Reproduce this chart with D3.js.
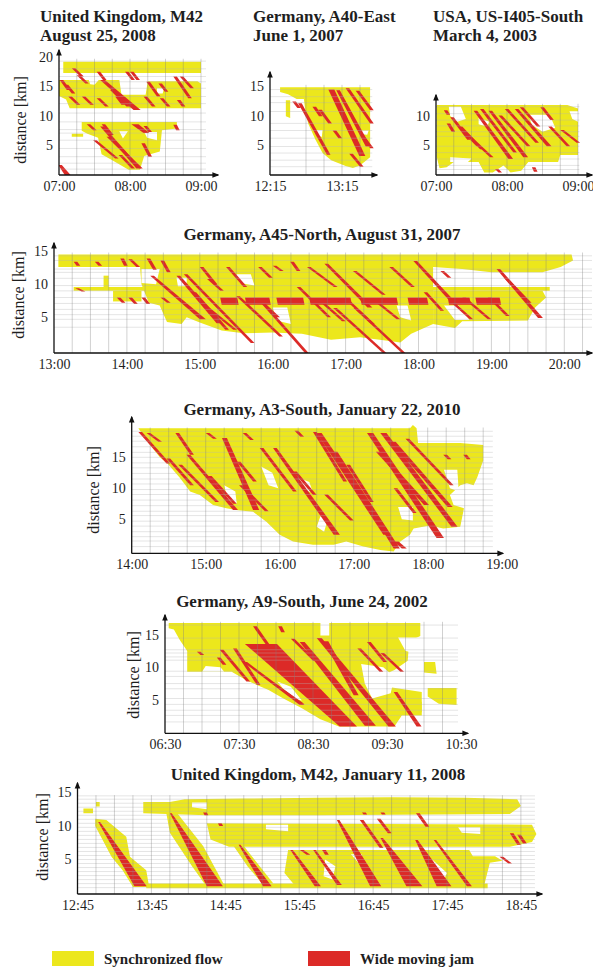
<!DOCTYPE html>
<html lang="en">
<head>
<meta charset="utf-8">
<script src="https://cdn.jsdelivr.net/npm/d3@7"></script>
<style>
body{margin:0;background:#fff;}
svg{display:block;font-family:"Liberation Serif","Times New Roman",serif;}
.ttl{font-weight:bold;font-size:17px;fill:#1e1e1e;}
.tick text{font-size:14px;fill:#1e1e1e;font-family:"Liberation Serif","Times New Roman",serif;}
.ylab{font-size:16px;fill:#1e1e1e;}
.leg{font-weight:bold;font-size:15px;fill:#1e1e1e;}
</style>
</head>
<body>
<svg id="fig" width="593" height="969"></svg>
<script>
// time in decimal hours, distance in km
// jams: [tStart, kmStart, tEnd, kmEnd, durStart(min), durEnd(min)]

// ---------- UK M42, Aug 25 2008
const p1Yellow=[
 [[7.06,19.2],[9.0,19.2],[9.0,17.3],[7.06,17.3]],
 [[7.0,16.1],[7.85,16.1],[7.88,13.6],[8.22,13.6],[8.25,15.9],[8.95,15.9],[9.0,15.5],[9.0,11.3],[7.15,11.3],[7.1,12.8],[7.0,13.4]],
 [[7.32,9.0],[8.66,9.0],[8.66,7.9],[8.45,7.6],[8.42,4.0],[8.2,3.2],[8.14,0.9],[7.98,0.9],[7.75,2.5],[7.6,3.5],[7.55,6.3],[7.4,7.0],[7.32,7.5]],
 [[7.18,7.0],[7.34,7.0],[7.34,6.5],[7.18,6.5]]
]
const p1Gaps=[
 [[7.42,16.1],[7.56,16.1],[7.5,15.3],[7.44,15.4]],
 [[8.38,14.7],[8.48,14.7],[8.46,13.8],[8.38,13.8]],
 [[8.2,7.3],[8.38,7.3],[8.38,5.9],[8.24,6.3]],
 [[7.85,7.4],[7.97,7.4],[7.9,6.2]]
]
const p1Jams=[
 [7.01,16.1,7.11,14.4],[7.08,15.3,7.18,13.8],[7.18,18.1,7.30,16.7],[7.25,16.9,7.37,15.5],
 [7.53,17.5,7.62,16.1],[7.58,16.1,8.05,11.0,4,6],[7.72,14.4,7.95,11.6],[7.13,13.3,7.25,11.9],
 [7.32,13.3,7.44,11.9],[7.53,13.0,7.65,11.6],[7.79,13.3,7.88,11.9],[7.93,17.5,8.02,16.1],
 [8.0,17.5,8.09,16.1],[8.23,15.8,8.38,13.3],[8.40,15.5,8.49,14.1],[8.61,16.7,8.82,13.0],
 [8.70,16.7,8.85,14.7],[8.19,13.3,8.31,11.6],[8.42,13.0,8.52,11.6],[8.66,12.7,8.73,11.6],
 [7.39,8.6,7.48,7.6],[7.60,8.6,7.72,6.8],[8.02,8.6,8.19,7.1,6,5],[8.19,8.3,8.26,7.3],
 [8.61,8.5,8.65,7.6],[7.58,8.2,8.09,1.1,3,4],[7.67,6.5,8.13,1.1],[7.48,5.9,7.79,2.8],
 [7.84,3.4,8.02,1.1],[8.16,5.4,8.26,3.1],[6.99,1.7,7.08,0,3,5]
]
const p1Det=[1.0,2.0,3.1,4.5,5.9,7.1,7.7,9.0,10.5,12.1,13.3,14.7,15.8,16.7,18.0,19.3]

// ---------- Germany A40-East, Jun 1 2007
const p2Yellow=[
 [[12.39,14.8],[13.64,14.8],[13.64,12.8],[12.62,12.8],[12.5,13.6],[12.39,14.0]],
 [[12.72,12.8],[13.64,12.8],[13.64,3.0],[13.5,1.6],[13.4,1.2],[13.3,1.5],[13.1,2.5],[12.98,3.7],[12.88,6.0],[12.78,8.7],[12.74,11.0]],
 [[12.47,12.6],[12.53,12.6],[12.53,9.6],[12.47,9.9]]
]
const p2Gaps=[
 [[12.9,7.6],[12.98,7.6],[12.97,6.4],[12.9,6.8]],
 [[13.5,7.5],[13.62,7.5],[13.6,6.8],[13.5,6.9]]
]
const p2Jams=[
 [12.64,12.1,13.04,3.4],[12.56,12.4,12.63,11.3],[12.84,11.5,12.93,9.9],[12.92,11.0,13.06,8.7],
 [13.06,14.4,13.49,3.2,5,5],[13.17,14.3,13.58,4.8,3,4],[13.3,14.6,13.64,8.7],[13.44,14.2,13.64,10.9],
 [13.12,7.5,13.2,6.2],[13.35,3.6,13.5,1.4],[13.5,6.8,13.64,4.5]
]
const p2Det=[1.4,2.5,3.7,4.8,6.2,7.5,8.7,10.7,12.2,13.2,14.4]

// ---------- USA US-I405-South, Mar 4 2003
const p3Yellow=[
 [[7.01,11.9],[8.85,11.9],[9.0,11.3],[9.0,3.3],[8.75,3.3],[8.72,2.1],[8.3,2.1],[8.2,0.6],[8.05,0.3],[7.95,1.5],[7.8,0.3],[7.68,0.3],[7.6,2.1],[7.25,2.1],[7.15,1.2],[7.05,1.0],[7.01,3.0]]
]
const p3Gaps=[
 [[7.18,11.6],[7.35,11.6],[7.42,9.5],[7.3,9.0],[7.2,10.0]],
 [[8.3,10.2],[8.6,10.2],[8.68,8.0],[8.5,7.3],[8.35,8.5]],
 [[7.6,9.7],[7.75,9.0],[7.72,8.2],[7.6,8.6]],
 [[8.88,10.8],[9.0,10.8],[9.0,9.0],[8.92,9.5]],
 [[7.2,2.9],[7.5,2.7],[7.45,2.1],[7.2,2.1]]
]
const p3Jams=[
 [7.15,8.7,7.22,7.3],[7.2,9.8,7.44,5.9],[7.32,8.2,7.62,4.3],[7.39,7.1,7.76,2.9],
 [7.53,10.9,8.02,2.6,3,4],[7.62,11.2,8.09,3.7],[7.74,10.9,8.23,2.9,3,4],[7.88,10.1,8.28,4.8],
 [7.97,11.2,8.4,5.4],[8.11,11.2,8.56,4.8,3,4],[8.18,11.5,8.42,8.2],[8.47,11.5,8.61,9.3],
 [8.58,8.2,8.84,4.8],[8.75,7.6,8.98,5.4],[7.83,0.9,7.88,0.3],[8.35,1.2,8.38,0.4],
 [7.11,11.0,7.15,10.2],[7.48,5.9,7.57,4.8]
]
const p3Det=[0.8,1.5,2.6,3.7,4.8,6.5,7.3,8.3,9.3,10.4,11.6]

// ---------- Germany A45-North, Aug 31 2007
const p4Yellow=[
 [[13.06,14.5],[20.1,14.5],[20.12,13.6],[19.95,12.6],[19.7,11.8],[19.0,11.8],[18.6,12.3],[18.2,12.6],[13.06,12.6]],
 [[13.27,9.6],[19.8,9.6],[19.8,9.0],[13.27,9.0]],
 [[13.68,11.3],[13.75,11.3],[13.75,9.5],[13.68,9.5]],
 [[14.18,12.6],[18.2,12.6],[18.2,4.0],[17.9,2.5],[17.75,1.2],[17.6,1.4],[17.2,2.0],[16.8,1.6],[16.4,2.5],[16.0,2.7],
  [15.6,2.6],[15.3,3.0],[15.0,4.2],[14.82,5.0],[14.75,4.0],[14.55,4.3],[14.45,6.8],[14.3,7.2],[14.2,10.0]],
 [[18.2,9.0],[19.7,9.0],[19.75,8.0],[19.6,6.5],[19.5,4.5],[18.6,4.4],[18.5,3.4],[18.2,4.0]],
 [[13.81,9.0],[14.2,9.0],[14.2,7.4],[13.81,7.4]]
]
const p4Gaps=[
 [[14.68,11.0],[14.82,11.0],[14.82,9.7],[14.7,9.7]],
 [[15.5,11.5],[15.7,11.5],[15.75,9.8],[15.55,10.2]],
 [[16.0,6.5],[16.2,6.5],[16.25,4.0],[16.05,4.5]],
 [[17.7,6.8],[17.85,6.8],[17.9,4.5],[17.75,5.0]],
 [[18.35,6.8],[18.55,6.8],[18.7,4.6],[18.5,4.6]],
 [[14.2,12.3],[14.45,12.3],[14.4,10.0],[14.2,10.2]]
]
const p4Jams=[
 [13.27,13.4,13.31,12.8],[13.56,13.4,13.61,12.8],[13.91,13.9,13.96,12.8],[14.02,13.8,14.13,12.6],
 [14.27,13.9,14.36,12.2],[14.46,13.6,14.55,11.8],[13.29,9.4,13.38,8.9],[13.86,8.0,13.93,7.2],
 [14.02,8.0,14.1,7.0],[14.2,8.0,14.27,7.0],[14.46,8.0,14.55,7.2],
 [14.32,11.3,15.0,4.7,3,5],[14.68,11.3,15.23,4.1,3,5],[14.9,8.8,15.35,3.1],[15.0,7.2,15.46,3.1],
 [15.1,10.8,15.28,9.0],[14.78,11.5,15.7,1.1],[15.5,8.2,16.09,2.1],[15.78,7.8,16.05,5.0],
 [15.0,12.6,15.19,10.0],[15.36,12.6,15.6,9.6],[15.8,12.6,15.95,11.0],
 [16.24,13.4,16.33,12.0],[16.33,9.6,16.75,5.0],[16.47,12.6,16.84,9.6],[16.71,13.1,17.3,6.5,3,4],
 [15.82,7.4,16.45,-0.5],[16.83,6.4,17.52,-0.5],[17.11,6.4,17.78,-0.5],
 [16.6,7.8,16.95,4.4],[17.0,7.6,17.35,4.0],[17.35,7.8,17.7,4.7],
 [17.93,13.5,18.45,7.2,3,4],[18.45,7.2,18.7,4.7],[18.07,8.8,18.3,6.0],[18.6,8.0,18.95,4.7],
 [19.07,12.3,19.64,4.9,3,4],[19.17,11.0,19.5,7.2],[18.95,8.0,19.2,5.2],[18.3,12.0,18.4,11.0],
 [16.0,12.8,16.1,12.0],[17.6,12.6,17.9,9.6],[17.1,12.0,17.5,8.4],
 [15.28,8.0,15.3,6.9,14,14],[15.62,8.0,15.64,6.9,20,20],[16.05,8.0,16.07,6.9,22,22],
 [16.5,8.0,16.52,6.9,34,34],[17.2,8.0,17.22,6.9,30,30],[17.85,8.0,17.87,6.9,16,16],
 [18.4,8.0,18.42,6.9,18,18],[18.78,8.0,18.8,6.9,20,20]
]
const p4Det=[3.5,4.7,5.4,6.2,7.1,8.0,9.0,9.8,10.9,11.8,12.3,13.6,14.3]

// ---------- Germany A3-South, Jan 22 2010
const p5Yellow=[
 [[14.09,19.7],[17.76,19.7],[17.8,20.2],[17.85,19.7],[17.87,17.3],[18.44,17.3],[18.75,17.0],[18.75,14.5],[18.67,11.8],
  [18.62,10.5],[18.53,10.8],[18.44,10.5],[18.3,8.9],[18.35,7.3],[18.49,6.8],[18.44,3.8],[18.21,3.5],[18.03,4.0],
  [17.81,3.5],[17.76,2.5],[17.63,1.4],[17.54,-0.2],[17.36,0.05],[17.13,0.6],[16.9,1.4],[16.73,0.9],[16.45,0.9],
  [16.18,1.4],[16.0,2.5],[15.82,4.6],[15.64,6.2],[15.41,6.5],[15.28,6.8],[15.1,7.3],[14.92,8.9],[14.79,9.5],
  [14.65,11.7],[14.49,13.9],[14.38,15.0],[14.2,17.7]]
]
const p5Gaps=[
 [[15.75,13.5],[15.9,12.5],[15.98,10.0],[15.85,10.5]],
 [[16.2,12.0],[16.4,11.0],[16.45,9.3],[16.3,9.8]],
 [[18.22,13.0],[18.4,13.0],[18.42,9.5],[18.3,10.0]],
 [[17.6,7.0],[17.8,7.0],[17.8,4.8],[17.65,5.0]],
 [[15.25,10.5],[15.4,9.5],[15.42,7.5],[15.3,8.0]],
 [[16.55,5.5],[16.65,5.0],[16.6,3.0],[16.5,3.8]]
]
const p5Jams=[
 [14.09,19.1,14.47,14.0],[14.2,18.9,14.36,17.5],[14.59,18.9,14.79,15.4],[14.47,14.8,14.79,10.5],
 [14.63,13.8,15.13,7.8],[14.74,15.4,15.37,6.5,3,4],[15.22,18.1,15.64,6.5,4,5],[15.42,14.3,15.64,11.1],
 [15.73,16.5,16.18,9.5],[15.91,16.5,16.73,2.5,3,5],[16.18,12.7,16.45,8.9],[16.45,19.1,16.86,11.1],
 [16.5,18.9,17.4,2.5,4,6],[16.73,15.9,17.54,0.3,3,5],[16.9,13.8,17.22,7.8],
 [17.18,18.9,18.12,2.0,5,6],[17.36,18.9,18.32,3.8,5,5],[17.5,17.5,18.27,7.0,4,4],[17.3,15.9,17.95,7.3,4,4],
 [17.7,18.0,18.3,10.5],[17.54,10.0,17.8,6.0],[18.21,15.4,18.27,14.7],[18.48,15.4,18.53,14.7],
 [15.03,12.0,15.37,7.5],[15.45,10.5,15.8,6.3],[16.6,9.0,16.95,4.8],[17.54,1.4,17.65,0.3,4,4],
 [15.0,18.9,15.1,18.0],[15.5,18.9,15.6,17.8],[16.2,19.3,16.28,18.3]
]
const p5Det=[0.6,1.5,2.2,3.0,3.9,4.7,5.6,6.3,7.2,8.1,9.0,9.8,10.7,11.5,12.4,13.3,14.1,15.0,15.8,16.7,17.6,18.4,19.2]

// ---------- Germany A9-South, Jun 24 2002
const p6Yellow=[
 [[6.55,16.8],[9.95,16.8],[9.95,14.8],[9.8,14.0],[9.78,11.0],[9.6,9.6],[9.45,8.8],[9.5,7.0],[9.97,6.2],[9.97,2.6],
  [9.7,2.6],[9.6,0.9],[8.85,0.9],[8.6,2.0],[8.35,3.7],[8.1,5.2],[7.9,6.5],[7.6,8.0],[7.4,9.3],[6.8,9.3],[6.8,12.5],
  [6.7,14.2],[6.62,15.8],[6.55,16.0]],
 [[8.46,4.7],[9.97,4.7],[9.97,3.1],[8.46,3.1]],
 [[10.0,10.8],[10.15,10.8],[10.17,9.0],[10.0,9.2]],
 [[10.05,6.8],[10.44,6.8],[10.44,4.2],[10.2,4.4],[10.05,5.5]]
]
const p6Gaps=[
 [[8.02,7.8],[8.2,7.0],[8.35,4.9],[8.2,5.2]],
 [[8.6,5.7],[8.75,4.9],[8.72,4.7],[8.6,4.8]],
 [[9.15,10.5],[9.45,10.0],[9.6,8.5],[9.55,6.0],[9.3,5.2],[9.2,7.5]],
 [[7.0,9.3],[7.3,9.3],[7.25,10.0],[7.05,10.2]],
 [[8.6,16.8],[8.72,16.8],[8.72,14.9],[8.6,14.9]],
 [[9.65,14.6],[9.95,14.6],[9.95,12.0],[9.75,12.5]]
]
const p6Jams=[
 [7.58,13.6,8.86,0.9,26,14],[7.69,16.3,7.87,13.4],[7.24,12.7,7.6,7.8],[7.42,12.9,7.74,7.3],
 [7.56,10.8,8.32,4.2,3,4],[7.92,7.7,8.33,4.4],[8.2,14.4,8.5,11.0],[8.32,13.9,9.2,1.0,4,9],
 [8.55,14.5,9.52,0.9,4,6],[8.64,14.0,9.05,5.7,4,4],[9.1,12.9,9.4,9.3],[9.23,13.9,9.45,10.8],
 [9.41,12.2,9.68,9.3],[9.59,6.2,9.9,0.9,3,4],[6.93,12.4,6.98,11.9],
 [7.2,11.5,7.28,10.4],[8.03,16.3,8.07,15.4]
]
const p6Det=[1.6,2.6,3.4,4.3,5.2,6.7,7.5,8.6,9.4,11.1,11.6,12.2,12.7,14.5,16.5]

// ---------- UK M42, Jan 11 2008
const p7Yellow=[
 [[12.83,12.6],[12.96,12.6],[12.96,11.9],[12.83,11.9]],
 [[13.0,13.6],[13.05,13.6],[13.05,12.9],[13.0,12.9]],
 [[12.99,11.1],[13.14,10.9],[13.41,8.4],[13.46,5.4],[13.68,3.4],[13.72,0.9],[13.5,0.9],[13.36,3.4],[13.21,5.4],[12.99,10.0]],
 [[13.68,1.4],[18.3,1.4],[18.3,0.7],[13.68,0.7]],
 [[13.64,13.6],[14.0,13.6],[14.2,14.0],[15.0,14.1],[16.0,14.2],[17.0,14.3],[18.0,14.2],[18.7,14.0],[18.75,13.0],[18.6,11.8],[16.0,11.6],[14.5,11.6],[13.64,11.9]],
 [[13.95,12.0],[14.1,11.9],[14.45,7.0],[14.75,0.9],[14.5,0.9],[14.3,4.0],[14.0,9.0]],
 [[14.5,10.4],[18.9,10.2],[18.96,8.8],[18.9,7.6],[18.6,6.9],[14.8,6.9],[14.55,8.0]],
 [[14.85,7.2],[15.0,7.0],[15.4,1.4],[15.25,1.4],[15.05,4.0]],
 [[15.6,6.4],[18.05,6.4],[18.1,5.5],[18.4,5.5],[18.5,4.8],[18.33,4.5],[18.25,1.0],[15.7,1.0],[15.55,3.0]]
]
const p7Gaps=[
 [[16.1,5.0],[16.24,4.0],[16.2,2.0],[16.08,2.5]],
 [[17.55,5.0],[17.75,3.0],[17.7,1.8],[17.55,3.0]],
 [[15.3,10.2],[15.6,10.2],[15.6,9.2],[15.3,9.5]],
 [[17.9,9.8],[18.2,9.8],[18.2,8.8],[17.95,9.0]],
 [[16.45,5.8],[16.6,5.8],[16.55,4.5]],
 [[14.3,13.5],[14.5,13.5],[14.5,12.5],[14.3,12.8]]
]
const p7Jams=[
 [13.03,10.6,13.52,1.0,1.5,10],[14.0,11.9,14.5,1.0,1.5,13],[14.93,7.2,15.26,1.0,1.5,7],
 [14.45,12.0,14.47,11.6],[14.65,10.4,14.67,10.0],
 [15.63,6.4,15.96,1.0,2,5],[15.76,6.4,15.85,5.7],[15.94,6.4,16.26,1.2,2,4],[16.06,6.4,16.1,5.7],
 [16.26,10.9,16.71,1.0,2,9],[16.57,10.9,16.84,6.7],[16.8,11.1,16.95,8.9],
 [16.85,8.2,17.2,1.0,2,13],[17.32,7.9,17.61,1.0,2,12],[17.33,11.9,17.46,9.9],
 [17.57,7.9,18.02,1.0,2,4],[18.46,5.4,18.58,4.4],[18.6,8.9,18.7,7.2],[18.7,8.7,18.78,7.4],
 [16.6,12.0,16.62,11.7],[16.85,12.0,16.87,11.7]
]
const p7Det=[0.8,1.4,2.0,2.6,3.2,3.8,4.4,5.0,5.6,6.2,6.8,7.4,8.0,8.6,9.2,9.8,10.4,11.0,11.6,12.2,12.8,13.4,14.0,14.5]

const legendLabels=["Synchronized flow","Wide moving jam"]

const YELLOW="#ece71c", RED="#dc2a27"

const panels=[
 {yellow:p1Yellow,gaps:p1Gaps,jams:p1Jams,det:p1Det,tDom:[7,9],xr:[59,201],kDom:[0,20],yr:[175,57],
  xTicks:[7,8,9],yTicks:[5,10,15,20],grid:[7.25,9.0],gridTop:19.7,gridRight:9.07,arrowTop:50,arrowRight:218,
  title:["United Kingdom, M42","August 25, 2008"],tx:40,ty:22,anchor:"start",ylab:[26,120]},
 {yellow:p2Yellow,gaps:p2Gaps,jams:p2Jams,det:p2Det,tDom:[12.25,13.64],xr:[270,370.1],kDom:[0,15],yr:[175,86],
  xTicks:[12.25,13.25],yTicks:[5,10,15],grid:[12.75,13.5],gridTop:15.2,gridRight:13.67,arrowTop:72,arrowRight:377,
  title:["Germany, A40-East","June 1, 2007"],tx:253,ty:22,anchor:"start"},
 {yellow:p3Yellow,gaps:p3Gaps,jams:p3Jams,det:p3Det,tDom:[7,9],xr:[436,578],kDom:[-0.15,10],yr:[175,116],
  xTicks:[7,8,9],yTicks:[5,10],grid:[7.25,9.0],gridTop:12.1,gridRight:9.02,arrowTop:95,arrowRight:592,
  title:["USA, US-I405-South","March 4, 2003"],tx:433,ty:22,anchor:"start"},
 {yellow:p4Yellow,gaps:p4Gaps,jams:p4Jams,det:p4Det,tDom:[13,20],xr:[54,564.3],kDom:[-0.4,15],yr:[353,251.2],
  xTicks:[13,14,15,16,17,18,19,20],yTicks:[5,10,15],grid:[13.25,20.25],gridTop:14.8,gridRight:20.38,arrowTop:243,arrowRight:592,
  title:["Germany, A45-North, August 31, 2007"],tx:322,ty:240,anchor:"middle",ylab:[24,295]},
 {yellow:p5Yellow,gaps:p5Gaps,jams:p5Jams,det:p5Det,tDom:[14,19],xr:[131.7,501.7],kDom:[-0.5,19],yr:[553.4,432.5],
  xTicks:[14,15,16,17,18,19],yTicks:[5,10,15],grid:[14.25,18.75],gridTop:19.8,gridRight:18.88,arrowTop:417,arrowRight:503,
  title:["Germany, A3-South, January 22, 2010"],tx:322,ty:415,anchor:"middle",ylab:[99,490]},
 {yellow:p6Yellow,gaps:p6Gaps,jams:p6Jams,det:p6Det,tDom:[6.5,10.5],xr:[165,461],kDom:[-0.15,17],yr:[733.3,621.8],
  xTicks:[6.5,7.5,8.5,9.5,10.5],yTicks:[5,10,15],grid:[6.75,10.25],gridTop:17.0,gridRight:10.46,arrowTop:615,arrowRight:468,
  title:["Germany, A9-South, June 24, 2002"],tx:302,ty:607,anchor:"middle",ylab:[139,675]},
 {yellow:p7Yellow,gaps:p7Gaps,jams:p7Jams,det:p7Det,tDom:[12.75,18.75],xr:[77.5,520.9],kDom:[-0.15,14.5],yr:[894,795.85],
  xTicks:[12.75,13.75,14.75,15.75,16.75,17.75,18.75],yTicks:[5,10,15],grid:[13.0,18.75],gridTop:14.6,gridRight:18.94,arrowTop:783,arrowRight:542,
  title:["United Kingdom, M42, January 11, 2008"],tx:318,ty:780,anchor:"middle",ylab:[48,837]}
]

const svg=d3.select("#fig")
const defs=svg.append("defs")
defs.append("marker").attr("id","arr").attr("viewBox","0 0 10 10").attr("refX",8).attr("refY",5)
 .attr("markerWidth",7).attr("markerHeight",7).attr("markerUnits","userSpaceOnUse").attr("orient","auto")
 .append("path").attr("d","M0,1 L10,5 L0,9 z").attr("fill","#111")

const fmt=t=>{const h=Math.floor(t+1e-6),m=Math.round((t-h)*60);return String(h).padStart(2,"0")+":"+String(m).padStart(2,"0")}

panels.forEach((p,i)=>{
 const x=d3.scaleLinear().domain(p.tDom).range(p.xr)
 const y=d3.scaleLinear().domain(p.kDom).range(p.yr)
 const y0=p.yr[0], x0=p.xr[0]
 const g=svg.append("g")
 const top=y(p.gridTop)
 defs.append("clipPath").attr("id","clip"+i).append("rect")
  .attr("x",x0).attr("y",top-4).attr("width",p.arrowRight-x0).attr("height",y0-top+4)
 const area=g.append("g").attr("clip-path",`url(#clip${i})`)
 const line=d3.line().x(d=>x(d[0])).y(d=>y(d[1]))
 area.selectAll("path.syn").data(p.yellow).join("path").attr("class","syn")
  .attr("d",d=>line(d)+"Z").attr("fill",YELLOW)
 area.selectAll("path.gap").data(p.gaps).join("path").attr("class","gap")
  .attr("d",d=>line(d)+"Z").attr("fill","#fff")
 area.selectAll("path.jam").data(p.jams).join("path").attr("class","jam")
  .attr("d",d=>{const d0=(d[4]??3)/60,d1=(d[5]??3)/60
   return line([[d[0],d[1]],[d[0]+d0,d[1]],[d[2]+d1,d[3]],[d[2],d[3]]])+"Z"})
  .attr("fill",RED)
 // detector lines and time grid
 g.selectAll("line.hg").data(p.det).join("line").attr("class","hg")
  .attr("x1",x0).attr("x2",x(p.gridRight)).attr("y1",d=>y(d)).attr("y2",d=>y(d))
  .attr("stroke","#b4b4b4").attr("stroke-width",0.6).attr("stroke-opacity",0.6)
 g.selectAll("line.vg").data(d3.range(p.grid[0],p.grid[1]+1e-6,0.25)).join("line").attr("class","vg")
  .attr("x1",d=>x(d)).attr("x2",d=>x(d)).attr("y1",y0).attr("y2",top)
  .attr("stroke","#7d7d7d").attr("stroke-width",0.8).attr("stroke-opacity",0.45)
 // axes
 g.append("g").attr("transform",`translate(0,${y0})`)
  .call(d3.axisBottom(x).tickValues(p.xTicks).tickFormat(fmt).tickSize(0).tickPadding(6))
  .call(a=>{a.select(".domain").remove();a.attr("font-family",null).attr("font-size",null)})
 g.append("g").attr("transform",`translate(${x0},0)`)
  .call(d3.axisLeft(y).tickValues(p.yTicks).tickSize(0).tickPadding(6))
  .call(a=>{a.select(".domain").remove();a.attr("font-family",null).attr("font-size",null)})
 g.append("line").attr("x1",x0).attr("y1",y0).attr("x2",p.arrowRight).attr("y2",y0)
  .attr("stroke","#111").attr("stroke-width",1.3).attr("marker-end","url(#arr)")
 g.append("line").attr("x1",x0).attr("y1",y0).attr("x2",x0).attr("y2",p.arrowTop)
  .attr("stroke","#111").attr("stroke-width",1.3).attr("marker-end","url(#arr)")
 // title
 const t=g.append("text").attr("class","ttl").attr("text-anchor",p.anchor)
 p.title.forEach((s,j)=>t.append("tspan").attr("x",p.tx).attr("y",p.ty+j*19).text(s))
 if(p.ylab) g.append("text").attr("class","ylab").attr("text-anchor","middle")
  .attr("transform",`translate(${p.ylab[0]},${p.ylab[1]}) rotate(-90)`).text("distance [km]")
})

// legend
const legColors=[YELLOW,RED]
const legX=[52,308]
const lg=svg.append("g")
lg.selectAll("rect").data(legendLabels).join("rect")
 .attr("x",(d,i)=>legX[i]).attr("y",951).attr("width",42).attr("height",15).attr("fill",(d,i)=>legColors[i])
lg.selectAll("text").data(legendLabels).join("text").attr("class","leg")
 .attr("x",(d,i)=>legX[i]+52).attr("y",964).text(d=>d)
</script>
</body>
</html>
